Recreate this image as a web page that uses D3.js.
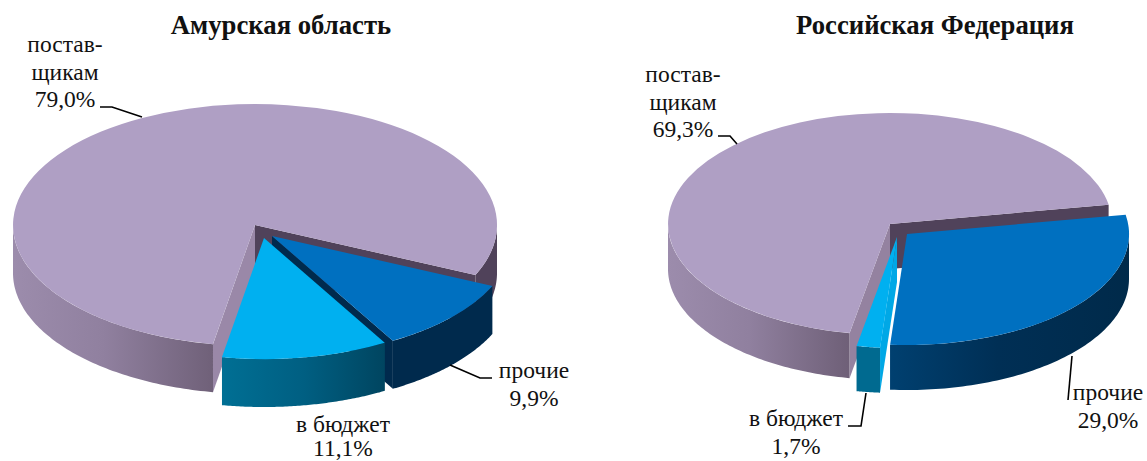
<!DOCTYPE html>
<html><head><meta charset="utf-8">
<script src="https://cdn.jsdelivr.net/npm/d3@7/dist/d3.min.js"></script>
<style>html,body{margin:0;padding:0;background:#fff}svg{display:block}text{font-family:"Liberation Serif",serif;fill:#111}</style>
</head><body><svg id="c" width="1147" height="461"></svg>
<script>
const categories = ["поставщикам", "прочие", "в бюджет"];
const amurValues = [79.0, 9.9, 11.1];
const rfValues = [69.3, 29.0, 1.7];
const titles = ["Амурская область", "Российская Федерация"];

const svg = d3.select("#c");
const defs = svg.append("defs");
const colors = {top:["#af9fc4","#0070c0","#00b0f0"]};
function grad(id, stops, x1, x2){
  const g = defs.append("linearGradient").attr("id",id).attr("gradientUnits","userSpaceOnUse")
    .attr("x1",x1).attr("x2",x2).attr("y1",0).attr("y2",0);
  stops.forEach(s=>g.append("stop").attr("offset",s[0]).attr("stop-color",s[1]));
  return "url(#"+id+")";
}
const deg = d=>d*Math.PI/180;

function drawPie(cfg){
  const pie = d3.pie().sort(null).value(d=>d.v).startAngle(deg(cfg.start)).endAngle(deg(cfg.start+360));
  const arcs = pie(cfg.values.map((v,i)=>({v,i})));
  const g = svg.append("g");
  const arcGen = d3.arc().innerRadius(0).outerRadius(1);
  const line = d3.line();
  cfg.order.forEach(i=>{
    const a = arcs[i], s = cfg.slices[i];
    const sx = d3.scaleLinear().domain([-1,1]).range([s.cx-cfg.rx,s.cx+cfg.rx]);
    const sy = d3.scaleLinear().domain([-1,1]).range([s.cy-cfg.ry,s.cy+cfg.ry]);
    const pt = (t,dz=0)=>[sx(Math.sin(t)),sy(-Math.cos(t))+dz];
    // radial walls that face the viewer
    (s.radial||[]).forEach(r=>{
      const t = r.end ? a.endAngle : a.startAngle;
      const c0=[s.cx,s.cy], e=pt(t);
      g.append("path").attr("d",line([c0,e,[e[0],e[1]+cfg.depth],[c0[0],c0[1]+cfg.depth]])+"Z").attr("fill",r.fill);
    });
    // outer wall: only the front half of the ellipse is visible
    [0,1].forEach(k=>{
      const lo = Math.max(a.startAngle, deg(90+360*k));
      const hi = Math.min(a.endAngle, deg(270+360*k));
      if(hi<=lo) return;
      const ts = d3.range(0,81).map(j=>lo+(hi-lo)*j/80);
      const poly = ts.map(t=>pt(t)).concat(ts.slice().reverse().map(t=>pt(t,cfg.depth)));
      const fill = k===1 && s.wallBack ? s.wallBack : s.wall;
      g.append("path").attr("d",line(poly)+"Z").attr("fill",fill);
    });
    // top face
    g.append("path").attr("d",arcGen(a))
      .attr("transform",`translate(${s.cx},${s.cy}) scale(${cfg.rx},${cfg.ry})`)
      .attr("fill",colors.top[i]);
  });
  const tg = svg.append("g");
  tg.append("text").attr("x",cfg.title[0]).attr("y",cfg.title[1]).attr("text-anchor","middle")
    .attr("font-weight","bold").attr("font-size",cfg.titleSize).text(cfg.titleText);
  cfg.labels.forEach(l=>{
    const lh = l.lh || cfg.lh;
    l.lines.forEach((t,k)=>tg.append("text").attr("x",l.x).attr("y",l.y+k*lh).attr("text-anchor","middle")
      .attr("font-size",cfg.fs).text(t));
    if(l.leader) tg.append("path").attr("d",line(l.leader)).attr("fill","none").attr("stroke","#000").attr("stroke-width",1.6);
  });
}
const pct = v=>d3.format(".1f")(v).replace(".",",")+"%";

const purpleWallL = grad("pw1",[[0,"#9c8cac"],[.45,"#90809f"],[1,"#6f6078"]],13,215);
const purpleWallR = grad("pw2",[[0,"#9c8cac"],[.45,"#90809f"],[1,"#6f6078"]],668,848);
const budgetWall = grad("bw1",[[0,"#006f94"],[.5,"#005f82"],[1,"#004560"]],222,385);
const otherWallR = grad("ow2",[[0,"#004070"],[.45,"#002f55"],[1,"#002a4a"]],890,1130);

drawPie({
  values:amurValues, start:190, rx:242, ry:121, depth:48, order:[0,1,2],
  slices:[
   {cx:255,cy:225,wall:purpleWallL,wallBack:"#50425a",radial:[{end:false,fill:"#9a88a8"},{end:true,fill:"#50425a"}]},
   {cx:272,cy:236,wall:"#002a4d",radial:[{end:true,fill:"#002a4d"}]},
   {cx:264,cy:238,wall:budgetWall}
  ],
  title:[281,34], titleSize:26.7, titleText:titles[0], fs:23.5, lh:27.5,
  labels:[
   {x:65,y:52,lines:["постав-","щикам",pct(amurValues[0])],leader:[[100,107],[112,107],[142,117]]},
   {x:534,y:378,lines:[categories[1],pct(amurValues[1])],leader:[[450,365],[480,378],[492,378]]},
   {x:343,y:432,lh:24,lines:[categories[2],pct(amurValues[2])]}
  ]
});
drawPie({
  values:rfValues, start:190.5, rx:222, ry:111, depth:45, order:[0,2,1],
  slices:[
   {cx:890,cy:224,wall:purpleWallR,wallBack:"#50425a",radial:[{end:false,fill:"#9482a0"},{end:true,fill:"#50425a"}]},
   {cx:907,cy:234,wall:otherWallR},
   {cx:897,cy:237,wall:"#006a90",radial:[{end:false,fill:"#00a8e6"}]}
  ],
  title:[935,34], titleSize:26.7, titleText:titles[1], fs:23.5, lh:27.5,
  labels:[
   {x:683,y:82,lines:["постав-","щикам",pct(rfValues[0])],leader:[[718,136],[730,136],[737,144]]},
   {x:1108,y:400,lines:[categories[1],pct(rfValues[1])],leader:[[1072,356],[1068,400]]},
   {x:796,y:426,lines:[categories[2],pct(rfValues[2])],leader:[[866,393],[861,426],[848,426]]}
  ]
});
</script></body></html>
